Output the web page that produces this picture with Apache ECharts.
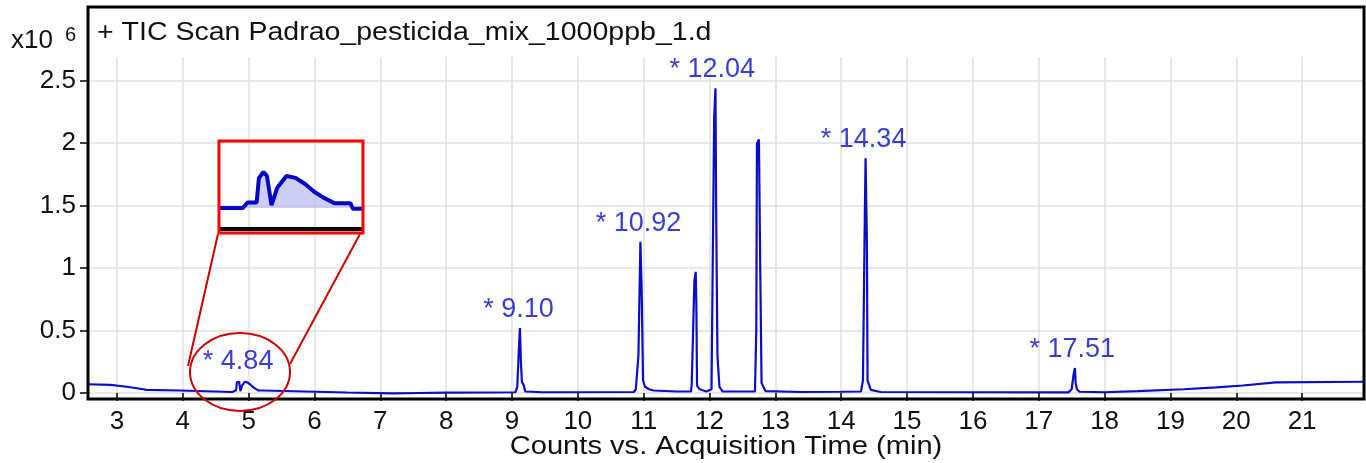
<!DOCTYPE html>
<html>
<head>
<meta charset="utf-8">
<script src="https://cdn.jsdelivr.net/npm/echarts@6/dist/echarts.min.js"></script>
<style>
html,body{margin:0;padding:0;background:#fff;}
#chart{width:1366px;height:463px;}
</style>
</head>
<body>
<div id="chart"></div>
<script>
// Retention time (min) and abundance (x10^6 counts)
var times = [2.56, 2.90, 2.92, 3.15, 3.17, 3.40, 3.45, 3.95, 3.97,
  4.75, 4.77, 4.81, 4.82, 4.84, 4.855, 4.875, 4.90, 4.94, 4.98, 5.02, 5.06, 5.10, 5.15, 5.22, 5.23,
  6.50, 6.52, 7.20, 7.22, 7.60, 7.62, 8.00, 8.60, 8.62, 8.66, 9.05,
  9.08, 9.10, 9.12, 9.135, 9.15, 9.18, 9.20, 9.30, 9.45, 9.47, 9.60, 9.62, 10.85,
  10.88, 10.92, 10.95, 10.97, 10.99, 11.02, 11.08, 11.15, 11.50, 11.72,
  11.73, 11.76, 11.77, 11.79, 11.80, 11.81, 11.85, 11.95, 12.03,
  12.07, 12.09, 12.10, 12.12, 12.15, 12.20, 12.69,
  12.71, 12.72, 12.75, 12.77, 12.79, 12.85, 13.40, 14.00, 14.30,
  14.33, 14.36, 14.37, 14.39, 14.40, 14.45, 14.60, 17.45,
  17.50, 17.53, 17.55, 17.56, 17.58, 17.62, 18.00, 18.50, 19.20, 19.70, 20.10, 20.60, 21.94];
var counts = [0.070, 0.065, 0.055, 0.050, 0.035, 0.030, 0.025, 0.020, 0.008,
  0.008, 0.022, 0.022, 0.085, 0.100, 0.090, 0.015, 0.060, 0.090, 0.085, 0.070, 0.050, 0.035, 0.020, 0.020, 0.006,
  0.004, -0.003, -0.003, 0.003, 0.000, 0.004, 0.003, 0.004, 0.010, 0.004, 0.006,
  0.050, 0.300, 0.520, 0.250, 0.090, 0.060, 0.012, 0.010, 0.006, 0.012, 0.006, 0.010, 0.008,
  0.030, 0.300, 1.210, 0.800, 0.100, 0.050, 0.030, 0.020, 0.012, 0.012,
  0.085, 0.085, 0.900, 0.970, 0.700, 0.060, 0.030, 0.012, 0.030,
  2.200, 2.440, 1.500, 0.300, 0.050, 0.012, 0.012,
  0.500, 2.000, 2.030, 1.000, 0.080, 0.015, 0.008, 0.010, 0.012,
  0.100, 1.500, 1.880, 1.200, 0.100, 0.025, 0.008, 0.005,
  0.030, 0.150, 0.200, 0.080, 0.030, 0.010, 0.006, 0.015, 0.030, 0.045, 0.060, 0.085, 0.090];

var peakTimes = [4.84, 9.10, 10.92, 12.04, 14.34, 17.51];
var peakHeights = [0.10, 0.52, 1.21, 2.44, 1.88, 0.20];
var peakLabels = ['* 4.84', '* 9.10', '* 10.92', '* 12.04', '* 14.34', '* 17.51'];

var yTickLabels = ['0', '0.5', '1', '1.5', '2', '2.5'];
var titleText = '+ TIC Scan Padrao_pesticida_mix_1000ppb_1.d';
var xAxisTitle = 'Counts vs. Acquisition Time (min)';

var lineData = times.map(function (t, i) { return [t, counts[i]]; });
var peakData = peakTimes.map(function (t, i) { return { value: [t, peakHeights[i]], name: peakLabels[i] }; });

var FONT = '"Liberation Sans", Arial, sans-serif';
var BLUE = '#0c0cc8';

var chart = echarts.init(document.getElementById('chart'), null, { renderer: 'canvas' });
chart.setOption({
  animation: false,
  backgroundColor: '#ffffff',
  grid: [
    { left: 88, right: 2, top: 57, bottom: 64 },
    { left: 220, top: 142, width: 142, height: 87 }
  ],
  xAxis: [{
    type: 'value', gridIndex: 0, min: 2.56, max: 21.94, minInterval: 1, maxInterval: 1,
    axisLine: { show: false },
    axisTick: { show: true, length: 8, lineStyle: { color: '#000', width: 1.5 } },
    axisLabel: { fontFamily: FONT, fontSize: 26, color: '#111', margin: 10, showMinLabel: false, showMaxLabel: false },
    splitLine: { show: true, showMinLine: false, showMaxLine: false, lineStyle: { color: '#e0e0e0', width: 1.5 } }
  }, {
    type: 'value', gridIndex: 1, min: 4.65, max: 5.27,
    axisLine: { show: true, onZero: false, lineStyle: { color: '#000', width: 4 } },
    axisTick: { show: false }, axisLabel: { show: false }, splitLine: { show: false }
  }],
  yAxis: [{
    type: 'value', gridIndex: 0, min: -0.048, max: 2.69, minInterval: 0.5, maxInterval: 0.5,
    axisLine: { show: false },
    axisTick: { show: true, length: 8, lineStyle: { color: '#000', width: 1.5 } },
    axisLabel: {
      fontFamily: FONT, fontSize: 26, color: '#111', margin: 12, showMinLabel: false, showMaxLabel: false,
      formatter: function (v) { var i = Math.round(v / 0.5); return yTickLabels[i] !== undefined ? yTickLabels[i] : ''; }
    },
    splitLine: { show: true, showMinLine: false, showMaxLine: false, lineStyle: { color: '#e0e0e0', width: 1.5 } }
  }, {
    type: 'value', gridIndex: 1, min: -0.046, max: 0.177,
    axisLine: { show: false }, axisTick: { show: false }, axisLabel: { show: false }, splitLine: { show: false }
  }],
  series: [{
    type: 'line', xAxisIndex: 0, yAxisIndex: 0, data: lineData, showSymbol: false, symbol: 'none',
    lineStyle: { color: BLUE, width: 2.2 }, z: 3
  }, {
    type: 'scatter', xAxisIndex: 0, yAxisIndex: 0, data: peakData, symbolSize: 0.1,
    itemStyle: { color: 'rgba(0,0,0,0)' },
    label: { show: true, position: 'top', distance: 5, formatter: '{b}', fontFamily: FONT, fontSize: 27, color: '#0a0ac4' },
    z: 4
  }, {
    type: 'line', xAxisIndex: 1, yAxisIndex: 1, data: lineData, showSymbol: false, symbol: 'none',
    lineStyle: { color: '#0505c8', width: 4 },
    areaStyle: { color: '#b9b9ee', origin: 0.008 }, z: 5
  }],
  graphic: [
    { type: 'rect', shape: { x: 88, y: 7, width: 1276, height: 392 }, style: { fill: 'none', stroke: '#000', lineWidth: 3 }, z: 100 },
    { type: 'rect', shape: { x: 219, y: 141, width: 144, height: 92 }, style: { fill: 'none', stroke: '#ff0000', lineWidth: 3 }, z: 100 },
    { type: 'line', shape: { x1: 218, y1: 234, x2: 188, y2: 366 }, style: { stroke: '#c80000', lineWidth: 2 }, z: 100 },
    { type: 'line', shape: { x1: 360, y1: 234, x2: 290, y2: 364 }, style: { stroke: '#c80000', lineWidth: 2 }, z: 100 },
    { type: 'ellipse', shape: { cx: 240, cy: 372, rx: 50, ry: 39 }, style: { fill: 'none', stroke: '#c80000', lineWidth: 2 }, z: 100 },
    { type: 'text', x: 97, y: 33, scaleX: 1.097, style: { text: titleText, font: '26px ' + FONT, fill: '#111', textVerticalAlign: 'middle' }, z: 100 },
    { type: 'text', x: 726, y: 447, scaleX: 1.12, style: { text: xAxisTitle, font: '26px ' + FONT, fill: '#111', textAlign: 'center', textVerticalAlign: 'middle' }, z: 100 },
    { type: 'text', x: 11, y: 41, style: { text: 'x10', font: '26px ' + FONT, fill: '#111', textVerticalAlign: 'middle' }, z: 100 },
    { type: 'text', x: 65, y: 35, style: { text: '6', font: '20px ' + FONT, fill: '#111', textVerticalAlign: 'middle' }, z: 100 }
  ]
});
</script>
</body>
</html>
